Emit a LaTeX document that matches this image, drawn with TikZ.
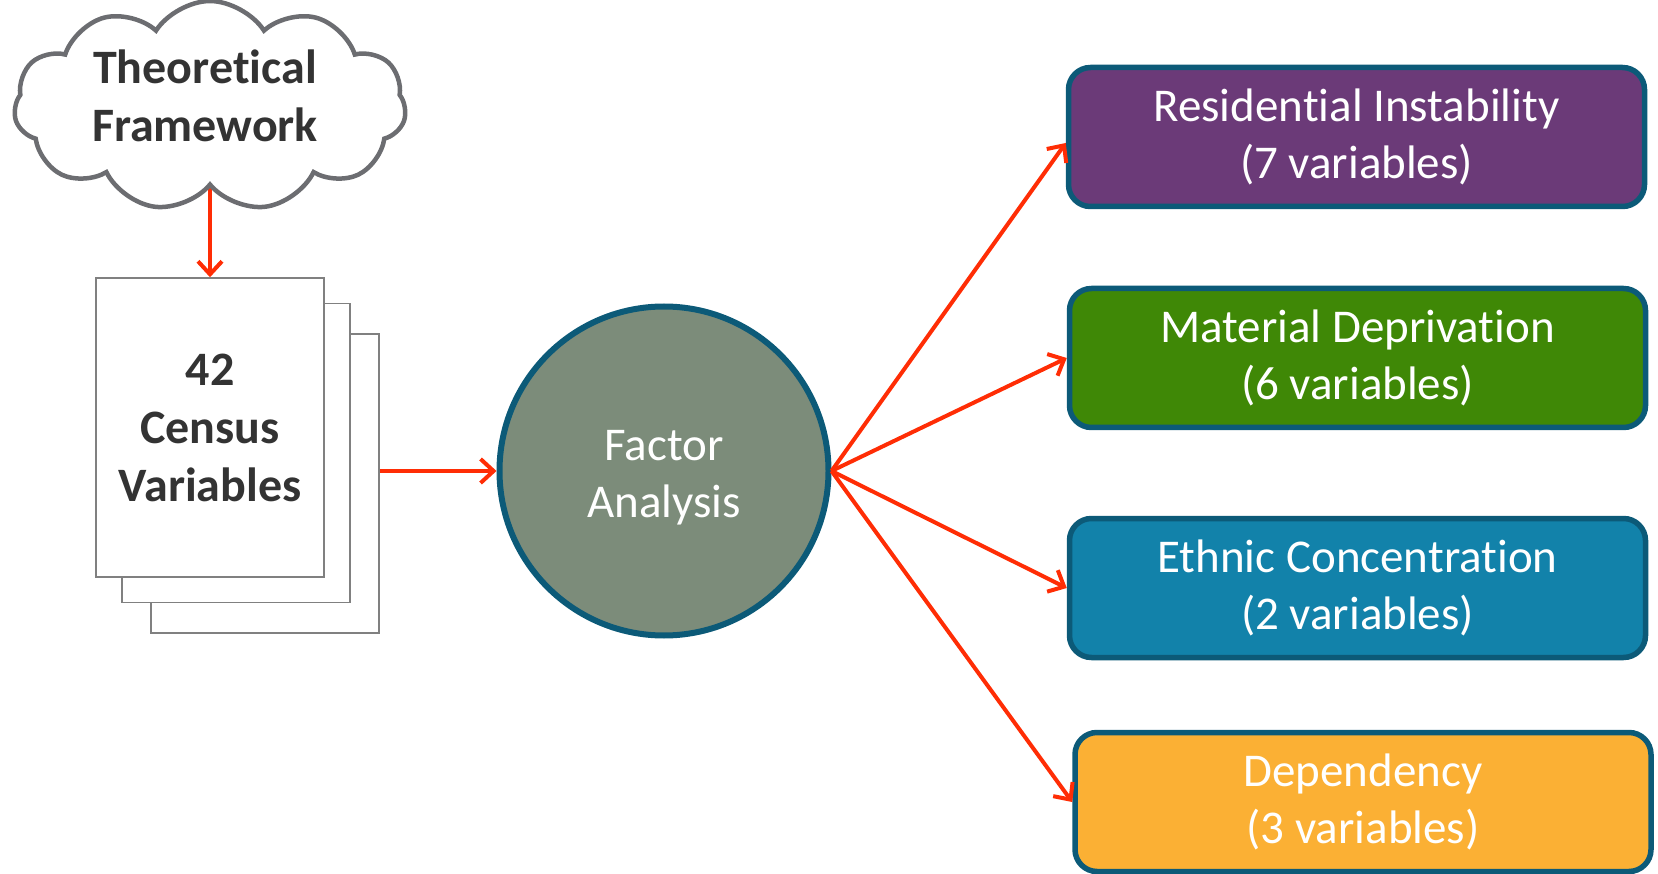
\documentclass[tikz,border=0pt]{standalone}
\usepackage{fontspec}
\setmainfont{Carlito}[Ligatures=NoCommon]
\usetikzlibrary{shapes.symbols,arrows.meta}
\definecolor{arrowred}{RGB}{255,45,5}
\definecolor{edgeblue}{RGB}{12,90,120}
\definecolor{cloudgray}{RGB}{108,109,113}
\definecolor{docgray}{RGB}{128,128,128}
\definecolor{txtdark}{RGB}{51,51,51}
\definecolor{fagreen}{RGB}{124,140,122}
\definecolor{cpurple}{RGB}{107,58,120}
\definecolor{cgreen}{RGB}{63,136,6}
\definecolor{cblue}{RGB}{18,130,170}
\definecolor{corange}{RGB}{251,176,52}
\tikzset{
  conn/.style={draw=arrowred, line width=4pt, -{Straight Barb[length=13pt,width=24pt,line width=4pt]}},
  docbox/.style={draw=docgray, fill=white, line width=1.5pt, minimum width=228pt, minimum height=299pt, inner sep=0pt},
  facbox/.style={draw=edgeblue, line width=5.5pt, rounded corners=22pt, minimum width=576pt, minimum height=139pt,
    text=white, font=\fontsize{47}{57}\selectfont, align=center},
  darktext/.style={text=txtdark, font=\bfseries\fontsize{48}{58}\selectfont, align=center}
}
\begin{document}
\begin{tikzpicture}[x=1pt,y=-1pt]
\useasboundingbox (0,0) rectangle (1658,874);
% documents
\node[docbox] (doc3) at (265,483.5) {};
\node[docbox] (doc2) at (236,453) {};
\node[docbox, darktext, text width=228pt] (doc1) at (210,427.5) {42\\Census\\Variables};
% cloud (arrow start hidden under the cloud)
\coordinate (cloudbot) at (210,170);
\draw[conn] (cloudbot) -- (doc1.north);
\node[cloud, cloud puffs=11, cloud puff arc=115, aspect=2, draw=cloudgray, line width=4.5pt, fill=white,
  minimum width=392pt, minimum height=210pt, inner sep=0pt] (cloud) at (210,106) {};
\node[darktext] (cloudtxt) at (205,96) {Theoretical\\Framework};
% factor analysis
\node[circle, draw=edgeblue, fill=fagreen, line width=6pt, minimum size=329pt, inner sep=0pt] (fa) at (664,471) {};
\node[text=white, font=\fontsize{47}{57}\selectfont, align=center] (fatxt) at (664,478) {Factor\\Analysis};
% factors
\node[facbox, fill=cpurple] (ri) at (1356.5,137) {Residential Instability\\(7 variables)};
\node[facbox, fill=cgreen] (md) at (1357.5,358) {Material Deprivation\\(6 variables)};
\node[facbox, fill=cblue] (ec) at (1357.5,588) {Ethnic Concentration\\(2 variables)};
\node[facbox, fill=corange] (dp) at (1363,802) {Dependency\\(3 variables)};
% connectors
\draw[conn] (doc3.east |- fa.west) -- (fa.west);
\draw[conn] (fa.east) -- ([yshift=-6pt]ri.west);
\draw[conn] (fa.east) -- (md.west);
\draw[conn] (fa.east) -- (ec.west);
\draw[conn] (fa.east) -- (dp.west);
\end{tikzpicture}
\end{document}
